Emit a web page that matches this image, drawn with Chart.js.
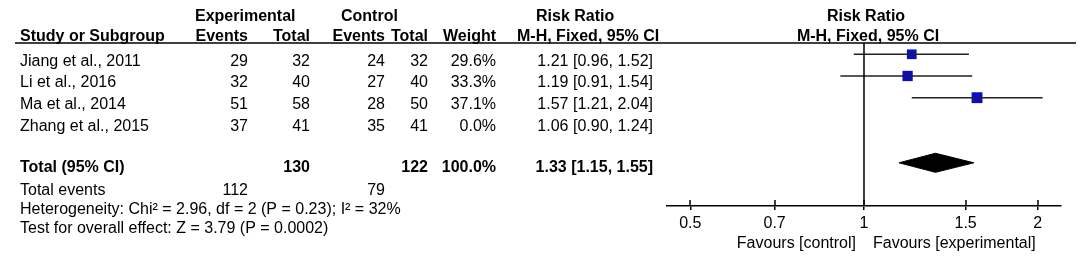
<!DOCTYPE html>
<html><head><meta charset="utf-8">
<script src="https://cdn.jsdelivr.net/npm/chart.js@4.4.1/dist/chart.umd.min.js"></script>
<style>html,body{margin:0;padding:0;background:#fff;}#wrap{width:1084px;height:257px;position:relative;}</style>
</head><body><div id="wrap"><canvas id="c" width="1084" height="257"></canvas></div>
<script>
// ---- data ----
const studies = ["Jiang et al., 2011", "Li et al., 2016", "Ma et al., 2014", "Zhang et al., 2015"];
const expEvents = [29, 32, 51, 37];
const expTotal = [32, 40, 58, 41];
const ctrlEvents = [24, 27, 28, 35];
const ctrlTotal = [32, 40, 50, 41];
const weights = [29.6, 33.3, 37.1, 0.0];
const rr = [1.21, 1.19, 1.57, 1.06];
const rrLow = [0.96, 0.91, 1.21, 0.90];
const rrHigh = [1.52, 1.54, 2.04, 1.24];
const totalLabel = "Total (95% CI)";
const totals = [130, 122];            // experimental, control
const totalWeight = [100.0];
const pooled = [1.33, 1.15, 1.55];     // estimate, low, high
const totalEvents = [112, 79];
const heterogeneity = "Heterogeneity: Chi\u00B2 = 2.96, df = 2 (P = 0.23); I\u00B2 = 32%";
const overallEffect = "Test for overall effect: Z = 3.79 (P = 0.0002)";
const xTicks = [0.5, 0.7, 1, 1.5, 2];
const favourLabels = ["Favours [control]", "Favours [experimental]"];
const headers = ["Study or Subgroup", "Experimental", "Control", "Events", "Total", "Weight", "Risk Ratio", "M-H, Fixed, 95% CI"];

// ---- helpers ----
const FONT = '"Liberation Sans", Arial, sans-serif';
const f2 = v => v.toFixed(2);
const ciText = (e, l, h) => `${f2(e)} [${f2(l)}, ${f2(h)}]`;
const pooledRow = studies.length + 1;
const Y_MIN = -0.52, Y_MAX = 6.99;

const datasets = [];
// null line
datasets.push({type: 'line', data: [{x: 1, y: Y_MIN}, {x: 1, y: Y_MAX}], borderColor: '#000', borderWidth: 1.5, pointRadius: 0, clip: false});
// CI lines
studies.forEach((s, i) => {
  if (weights[i] > 0) {
    datasets.push({type: 'line', data: [{x: rrLow[i], y: i}, {x: rrHigh[i], y: i}], borderColor: '#222', borderWidth: 1.5, pointRadius: 0});
  }
});
// squares
const sqIdx = studies.map((s, i) => i).filter(i => weights[i] > 0);
datasets.push({
  type: 'scatter',
  data: sqIdx.map(i => ({x: rr[i], y: i})),
  pointStyle: 'rect',
  pointRadius: sqIdx.map(i => Math.sqrt(weights[i]) * 1.26),
  backgroundColor: '#0a0ac8', borderWidth: 0
});
// diamond
const dh = 0.44;
datasets.push({
  type: 'line',
  data: [{x: pooled[1], y: pooledRow}, {x: pooled[0], y: pooledRow - dh}, {x: pooled[2], y: pooledRow}, {x: pooled[0], y: pooledRow + dh}, {x: pooled[1], y: pooledRow}],
  borderColor: '#000', borderWidth: 1, backgroundColor: '#000', fill: 'shape', pointRadius: 0, tension: 0
});

const tablePlugin = {
  id: 'table',
  afterDraw(chart) {
    const ctx = chart.ctx, ca = chart.chartArea;
    const xs = chart.scales.x, ys = chart.scales.y;
    ctx.save();
    // header rule
    ctx.strokeStyle = '#000'; ctx.lineWidth = 1.5;
    ctx.beginPath(); ctx.moveTo(15, ca.top); ctx.lineTo(1076, ca.top); ctx.stroke();
    // tick stubs above the axis
    ctx.beginPath();
    xTicks.forEach(v => { const px = Math.round(xs.getPixelForValue(v)); ctx.moveTo(px, ca.bottom - 6); ctx.lineTo(px, ca.bottom); });
    ctx.stroke();

    const base = r => ys.getPixelForValue(r) + 11.4;
    const txt = (s, x, r, align, bold) => {
      ctx.font = (bold ? 'bold ' : '') + '16px ' + FONT;
      ctx.textAlign = align; ctx.textBaseline = 'alphabetic'; ctx.fillStyle = '#000';
      ctx.fillText(s, x, typeof r === 'number' ? base(r) : r.px);
    };
    const C = {study: 20, ee: 248, et: 310, ce: 385, ct: 428, w: 496, rr: 653};
    const h1 = -2.06, h2 = -1.14;
    // headers
    txt(headers[1], 195, h1, 'left', true);
    txt(headers[2], 341, h1, 'left', true);
    txt(headers[6], 536, h1, 'left', true);
    txt(headers[6], 866, h1, 'center', true);
    txt(headers[0], C.study, h2, 'left', true);
    txt(headers[3], C.ee, h2, 'right', true);
    txt(headers[4], C.et, h2, 'right', true);
    txt(headers[3], C.ce, h2, 'right', true);
    txt(headers[4], C.ct, h2, 'right', true);
    txt(headers[5], C.w, h2, 'right', true);
    txt(headers[7], 517, h2, 'left', true);
    txt(headers[7], 868, h2, 'center', true);
    // studies
    studies.forEach((s, i) => {
      txt(s, C.study, i, 'left', false);
      txt(String(expEvents[i]), C.ee, i, 'right', false);
      txt(String(expTotal[i]), C.et, i, 'right', false);
      txt(String(ctrlEvents[i]), C.ce, i, 'right', false);
      txt(String(ctrlTotal[i]), C.ct, i, 'right', false);
      txt(weights[i].toFixed(1) + '%', C.w, i, 'right', false);
      txt(ciText(rr[i], rrLow[i], rrHigh[i]), C.rr, i, 'right', false);
    });
    // total
    const tr = pooledRow - 0.1;
    txt(totalLabel, C.study, tr, 'left', true);
    txt(String(totals[0]), C.et, tr, 'right', true);
    txt(String(totals[1]), C.ct, tr, 'right', true);
    txt(totalWeight[0].toFixed(1) + '%', C.w, tr, 'right', true);
    txt(ciText(pooled[0], pooled[1], pooled[2]), C.rr, tr, 'right', true);
    txt('Total events', C.study, 5.95, 'left', false);
    txt(String(totalEvents[0]), C.ee, 5.95, 'right', false);
    txt(String(totalEvents[1]), C.ce, 5.95, 'right', false);
    txt(heterogeneity, C.study, 6.84, 'left', false);
    txt(overallEffect, C.study, 7.71, 'left', false);
    // favours
    const x1 = xs.getPixelForValue(1);
    txt(favourLabels[0], x1 - 8, {px: 248}, 'right', false);
    txt(favourLabels[1], x1 + 9, {px: 248}, 'left', false);
    ctx.restore();
  }
};

new Chart(document.getElementById('c'), {
  type: 'scatter',
  data: {datasets},
  options: {
    responsive: false, animation: false, devicePixelRatio: 1,
    layout: {padding: {left: 667, right: 23, top: 43, bottom: 0}},
    plugins: {legend: {display: false}, tooltip: {enabled: false}},
    scales: {
      x: {
        type: 'logarithmic', min: 0.4556, max: 2.195,
        afterBuildTicks: s => { s.ticks = xTicks.map(v => ({value: v})); },
        afterFit: s => { s.height = 51; },
        border: {display: true, color: '#000', width: 1.5},
        grid: {drawOnChartArea: false, drawTicks: true, tickLength: 4, color: '#000', lineWidth: 1.5},
        ticks: {font: {size: 16, family: FONT}, color: '#000', padding: 4, maxRotation: 0, autoSkip: false, callback: v => String(v)}
      },
      y: {type: 'linear', reverse: true, min: Y_MIN, max: Y_MAX, display: false}
    }
  },
  plugins: [tablePlugin]
});
</script></body></html>
